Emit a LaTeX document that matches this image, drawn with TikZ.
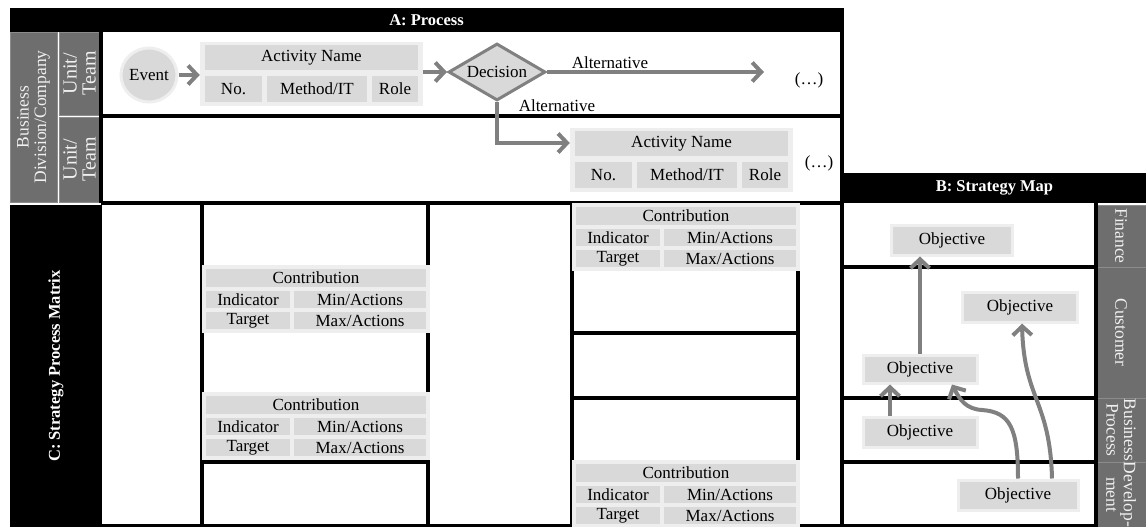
\documentclass[tikz,border=0pt]{standalone}
\usepackage{fontspec}
\setmainfont{Liberation Serif}
\usetikzlibrary{arrows.meta,shapes.geometric}
\definecolor{lbl}{HTML}{6E6E6E}
\definecolor{cellg}{HTML}{D9D9D9}
\definecolor{boxg}{HTML}{EEEEEE}
\definecolor{arr}{HTML}{808080}
\definecolor{sep}{HTML}{8C8C8C}

\newcommand{\contribbox}[3]{%
  \node[outerbox, minimum width=228pt, minimum height=68pt] (#1) at (#2+114,#3+34) {};
  \node[cell, minimum width=220pt, minimum height=18pt] (#1-c) at (#2+114,#3+13) {Contribution};
  \node[cell, minimum width=84pt, minimum height=17pt] (#1-i) at (#2+46,#3+34.5) {Indicator};
  \node[cell, minimum width=132pt, minimum height=17pt] (#1-min) at (#2+158,#3+34.5) {Min/Actions};
  \node[cell, minimum width=84pt, minimum height=17pt] (#1-t) at (#2+46,#3+55.5) {Target};
  \node[cell, minimum width=132pt, minimum height=17pt] (#1-max) at (#2+158,#3+55.5) {Max/Actions};
}
\newcommand{\activitybox}[3]{%
  \node[outerbox, minimum width=223pt, minimum height=64pt] (#1) at (#2+111.5,#3+32) {};
  \node[cell, minimum width=213pt, minimum height=25pt] (#1-name) at (#2+111.5,#3+15.5) {Activity Name};
  \node[cell, minimum width=57pt, minimum height=26pt] (#1-no) at (#2+33.5,#3+47) {No.};
  \node[cell, minimum width=100pt, minimum height=26pt] (#1-m) at (#2+117,#3+47) {Method/IT};
  \node[cell, minimum width=46pt, minimum height=26pt] (#1-r) at (#2+195,#3+47) {Role};
}

\begin{document}
\begin{tikzpicture}[x=1pt,y=-1pt,
  font=\fontsize{17}{18}\selectfont,
  hdr/.style={fill=black, text=white, inner sep=0pt, font=\fontsize{16.5}{18}\selectfont\bfseries},
  lblbox/.style={fill=lbl, draw=sep, line width=0.8pt, text=white!94!black, inner sep=0pt, align=center, font=\fontsize{17.5}{17.5}\selectfont},
  utbox/.style={lblbox, font=\fontsize{20}{19}\selectfont},
  outerbox/.style={fill=boxg, inner sep=0pt},
  cell/.style={fill=cellg, inner sep=0pt},
  objbox/.style={fill=cellg, draw=boxg, line width=3pt, inner sep=0pt},
  bline/.style={draw=black, line width=3.5pt},
  garrow/.style={draw=arr, line width=4pt, -{Straight Barb[length=9pt,width=19pt]}},
  plain/.style={inner sep=1pt}
]
\useasboundingbox (0,0) rectangle (1146,527);

% ---------- A: Process ----------
\node[hdr, minimum width=833pt, minimum height=24pt] (Ahdr) at (426.5,20) {A: Process};
\node[lblbox, rotate=90, minimum width=170pt, minimum height=47pt] (bdc) at (33.5,117) {Business\\Division/Company};
\node[utbox, rotate=90, minimum width=83pt, minimum height=41pt] (ut1) at (79.5,73.5) {Unit/\\Team};
\node[utbox, rotate=90, minimum width=85pt, minimum height=41pt] (ut2) at (79.5,159.5) {Unit/\\Team};

\draw[bline] (101,32) -- (101,203);
\draw[bline] (101,116) -- (842,116);
\draw[bline] (101,203) -- (842,203);
\draw[bline] (842,8) -- (842,527);

\node[ellipse, fill=cellg, draw=boxg, line width=3pt, minimum width=55pt, minimum height=54pt, inner sep=0pt] (event) at (149,75) {Event};
\activitybox{act1}{200}{42}
\node[diamond, aspect=1.7, fill=cellg, draw=arr, line width=3pt, inner sep=0pt, minimum width=97pt, minimum height=57pt] (dec) at (497,72) {Decision};
\activitybox{act2}{570}{128}

\coordinate (alt1end) at (764,72);
\draw[garrow] (event.east) -- (act1.west |- event.east);
\draw[garrow] (act1.east |- dec.west) -- (dec.west);
\draw[garrow] (dec.east) -- (alt1end);
\draw[garrow] (dec.south) |- ([yshift=17pt]act2.west);

\node[plain] (alt1) at (610,63) {Alternative};
\node[plain] (alt2) at (557,106) {Alternative};
\node[plain] (more1) at (809,80) {(…)};
\node[plain] (more2) at (819,163) {(…)};

% ---------- C: Strategy Process Matrix ----------
\node[hdr, rotate=90, minimum width=322pt, minimum height=92pt] (Chdr) at (56,366) {C: Strategy Process Matrix};

\draw[bline] (202,203) -- (202,527);
\draw[bline] (428,203) -- (428,527);
\draw[bline] (202,462) -- (428,462);
\draw[bline] (572,203) -- (572,527);
\draw[bline] (798,203) -- (798,527);
\draw[bline] (572,333) -- (798,333);
\draw[bline] (572,398) -- (798,398);
\draw[bline] (102,525.5) -- (842,525.5);

\contribbox{cb1}{202}{265}
\contribbox{cb2}{202}{392}
\contribbox{cb3}{572}{203}
\contribbox{cb4}{572}{460}

% ---------- B: Strategy Map ----------
\node[hdr, minimum width=303pt, minimum height=30pt] (Bhdr) at (994.5,188) {B: Strategy Map};

\node[lblbox, rotate=-90, minimum width=62pt, minimum height=50pt] (fin) at (1121,236) {Finance};
\node[lblbox, rotate=-90, minimum width=131pt, minimum height=50pt] (cust) at (1121,332.5) {Customer};
\node[lblbox, rotate=-90, minimum width=64pt, minimum height=50pt] (bp) at (1121,430) {Business\\Process};
\node[lblbox, rotate=-90, minimum width=65pt, minimum height=50pt] (dev) at (1121,494.5) {Develop-\\ment};

\draw[bline] (842,267) -- (1096,267);
\draw[bline] (842,398) -- (1096,398);
\draw[bline] (842,462) -- (1096,462);
\draw[bline] (1096,203) -- (1096,527);
\draw[bline] (842,525.5) -- (1096,525.5);

\node[objbox, minimum width=121pt, minimum height=30pt] (o1) at (952,240) {Objective};
\node[objbox, minimum width=115pt, minimum height=30pt] (o2) at (1020,307) {Objective};
\node[objbox, minimum width=114pt, minimum height=28pt] (o3) at (920,369) {Objective};
\node[objbox, minimum width=114pt, minimum height=30pt] (o4) at (920,432) {Objective};
\node[objbox, minimum width=120pt, minimum height=30pt] (o5) at (1018,495) {Objective};

\draw[garrow] (o3.north) -- (o3.north |- o1.south);
\draw[garrow] ([xshift=-30pt]o4.north) -- ([xshift=-30pt]o3.south);
\draw[garrow] (o5.north) .. controls (1018,428) and (1010,412) .. (982,410)
  .. controls (966,409) and (960,400) .. ([xshift=32pt]o3.south);
\draw[garrow] ([xshift=34pt]o5.north) .. controls (1050,400) and (1024,400) .. ([xshift=2pt]o2.south);
\end{tikzpicture}
\end{document}
